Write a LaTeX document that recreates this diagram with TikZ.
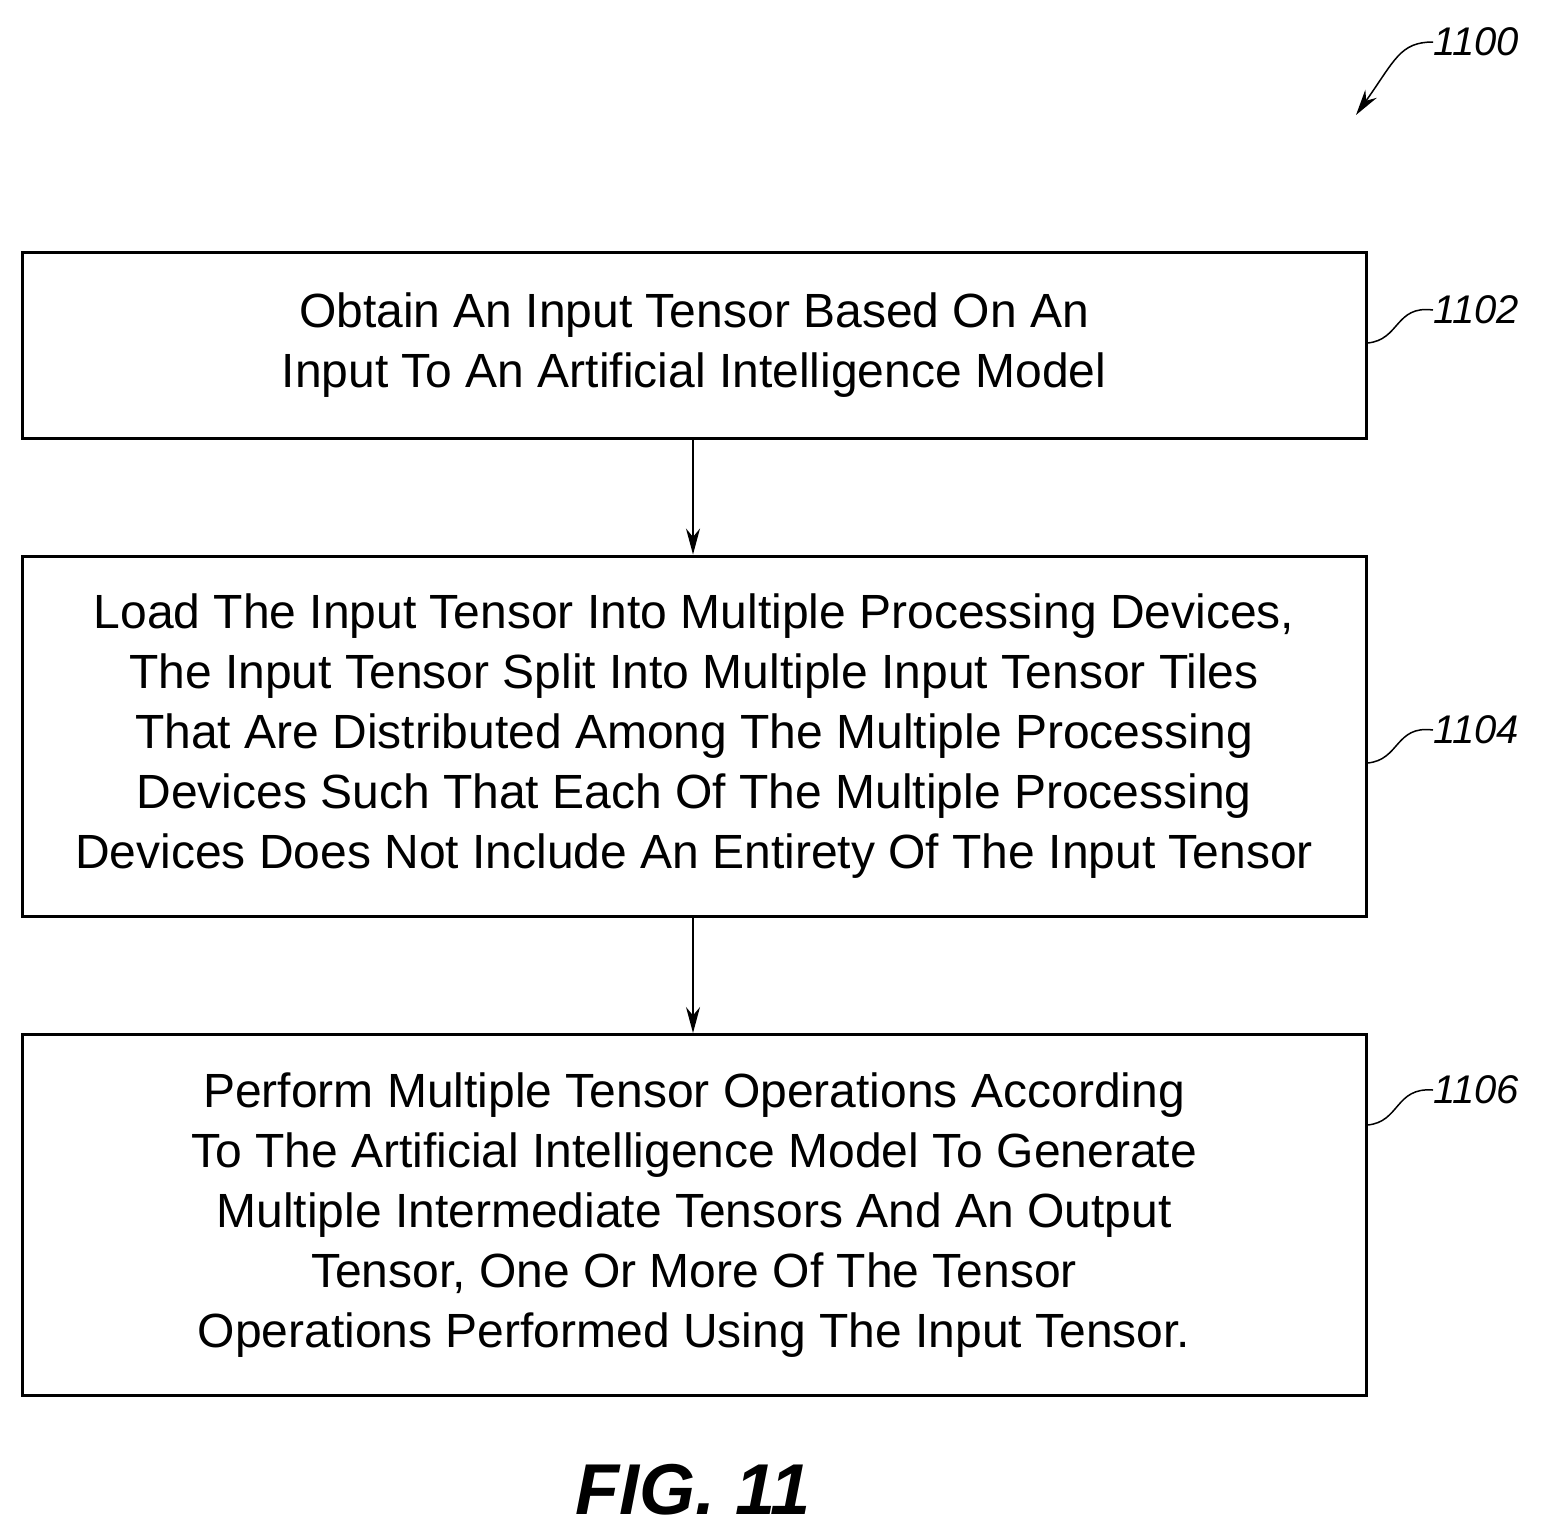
\documentclass[tikz,border=0pt]{standalone}
\usepackage{fontspec}
\setmainfont{Liberation Sans}
\usetikzlibrary{arrows.meta}
\begin{document}
\begin{tikzpicture}[x=1pt,y=-1pt,
  box/.style={draw,line width=3pt,minimum width=1344pt,align=center,font=\fontsize{48}{60}\selectfont,inner sep=0pt},
  lab/.style={font=\fontsize{40}{40}\selectfont\itshape,anchor=west,inner sep=0pt},
  arr/.style={-{Stealth[length=26pt,width=14pt]},line width=1.5pt},
  lead/.style={line width=1.5pt}]
\useasboundingbox (0,0) rectangle (1542,1537);
\node[box,minimum height=186pt] (b1) at (694,345) {Obtain An Input Tensor Based On An\\Input To An Artificial Intelligence Model};
\node[box,minimum height=360pt] (b2) at (694,736) {Load The Input Tensor Into Multiple Processing Devices,\\The Input Tensor Split Into Multiple Input Tensor Tiles\\That Are Distributed Among The Multiple Processing\\Devices Such That Each Of The Multiple Processing\\Devices Does Not Include An Entirety Of The Input Tensor};
\node[box,minimum height=361pt] (b3) at (694,1215) {Perform Multiple Tensor Operations According\\To The Artificial Intelligence Model To Generate\\Multiple Intermediate Tensors And An Output\\Tensor, One Or More Of The Tensor\\Operations Performed Using The Input Tensor.};
\draw[arr] (b1.south -| 693,0) -- (b2.north -| 693,0);
\draw[arr] (b2.south -| 693,0) -- (b3.north -| 693,0);
\node[lab] (l2) at (1433,310) {1102};
\node[lab] (l4) at (1433,730) {1104};
\node[lab] (l6) at (1433,1090) {1106};
\node[lab] (l0) at (1433,42) {1100};
\draw[lead] (b1.east |- 0,343) .. controls (1400,340) and (1395,305) .. (l2.west);
\draw[lead] (b2.east |- 0,763) .. controls (1400,760) and (1395,725) .. (l4.west);
\draw[lead] (b3.east |- 0,1125) .. controls (1400,1122) and (1395,1087) .. (l6.west);
\coordinate (a0) at (1356,115);
\draw[arr] (l0.west) .. controls (1400,42) and (1395,60) .. (a0);
\node[font=\fontsize{72}{72}\selectfont\bfseries\itshape] (fig) at (693,1490) {FIG. 11};
\end{tikzpicture}
\end{document}
